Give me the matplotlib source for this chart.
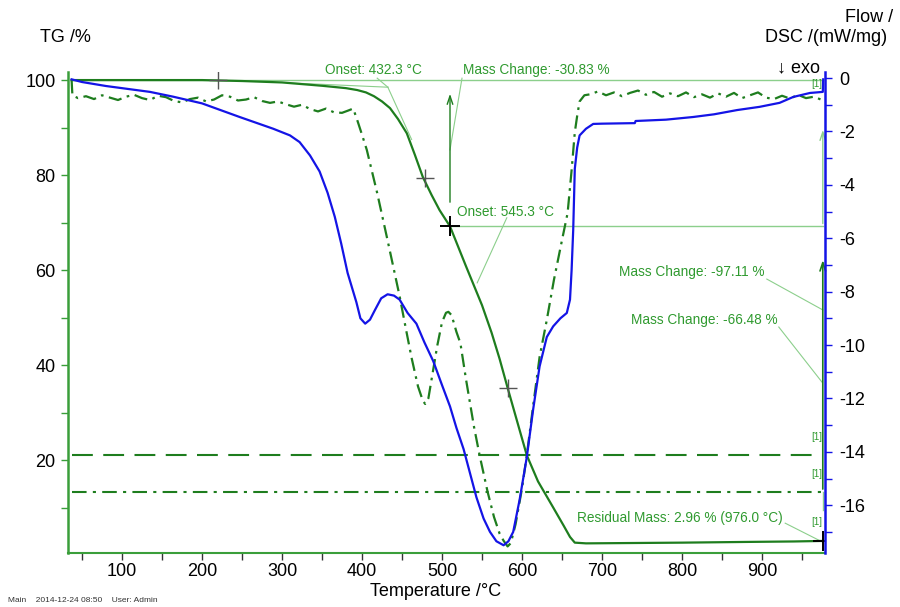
import matplotlib.pyplot as plt
from matplotlib.ticker import MultipleLocator

plt.rcParams['font.family'] = ['Liberation Sans', 'DejaVu Sans']
plt.rcParams['axes.unicode_minus'] = False

# TG curve (%)
temp_tg = [37, 60, 100, 150, 200, 250, 300, 350, 380, 394, 405, 415, 425, 435, 445, 456, 466,
           476, 487, 497, 510, 520, 530, 540, 550, 562, 572, 582, 595, 606, 620, 639, 652, 660,
           666, 680, 720, 800, 880, 940, 976]
tg = [100, 100, 100, 100, 100, 99.8, 99.5, 98.8, 98.3, 97.9, 97.4, 96.6, 95.5, 94.1, 91.8,
      88.8, 84.3, 79.6, 75.8, 72.6, 69.2, 65.0, 60.8, 56.7, 52.6, 46.8, 41.3, 35.2, 27.5,
      21.0, 15.5, 10.0, 6.2, 3.8, 2.6, 2.45, 2.5, 2.6, 2.75, 2.85, 2.96]

# DTG curve (dash-dot), plotted in TG units
temp_dtg = [37, 38, 45, 55, 65, 75, 85, 95, 105, 115, 125, 135, 145, 155, 165, 175, 185, 195,
            205, 215, 225, 235, 245, 255, 265, 275, 285, 295, 305, 315, 325, 335, 345, 355,
            365, 375, 383, 389, 394, 400, 406, 419, 431, 440, 447, 455, 462, 470, 476, 479,
            483, 488, 494, 500, 505, 508, 512, 518, 523, 530, 540, 547, 557, 565, 572, 577,
            582, 586, 592, 600, 606, 614, 622, 631, 640, 650, 657, 662, 666, 669, 672, 678,
            685, 695, 705, 715, 725, 735, 745, 755, 765, 775, 785, 795, 805, 815, 825, 835,
            845, 855, 865, 875, 885, 895, 905, 915, 925, 935, 945, 955, 965, 975, 976]
dtg = [100, 96.8, 96.2, 96.6, 96.0, 96.8, 96.3, 95.8, 96.5, 96.9, 96.2, 95.8, 96.7, 96.4,
       95.6, 95.3, 96.0, 96.3, 95.5, 95.9, 96.8, 96.5, 95.7, 95.9, 96.4, 95.6, 95.2, 95.5,
       94.9, 94.4, 94.8, 93.9, 93.4, 94.0, 93.2, 93.1, 93.6, 94.0, 91.6, 88.5, 85.3, 76.2,
       67.0, 60.0, 54.5, 47.5, 41.5, 35.5, 32.5, 31.8, 33.0, 38.0, 44.0, 49.0, 51.0, 51.2,
       50.5, 47.0, 44.6, 37.0, 27.0, 21.0, 13.3, 8.0, 4.5, 3.0, 1.8, 2.5, 6.5, 14.0, 21.0,
       31.5, 41.7, 49.5, 58.0, 66.3, 72.0, 81.0, 89.0, 92.5, 95.5, 96.8,
       97.0, 97.6, 96.8, 97.4, 96.6, 97.3, 97.8, 96.9, 97.5, 96.5, 97.2, 96.6, 97.4, 96.4,
       97.0, 96.3, 97.2, 96.5, 97.3, 96.2, 96.8, 97.4, 96.3, 96.0, 96.7, 96.1, 96.9, 96.2,
       96.5, 95.8, 95.4]

# DSC curve (mW/mg)
temp_dsc = [37, 50, 80, 100, 135, 164, 200, 247, 289, 310, 322, 335, 347, 357, 366, 374, 382,
            393, 398, 404, 410, 416, 424, 432, 440, 447, 457, 468, 478, 489, 500, 510, 518, 527,
            535, 543, 552, 560, 568, 577, 583, 589, 597, 606, 614, 622, 631, 639, 648, 656, 660,
            662, 664, 666, 669, 672, 680, 689, 700, 741, 742, 780, 814, 840, 869, 897, 922, 939,
            960, 976, 976.5]
dsc = [-0.05, -0.15, -0.3, -0.38, -0.52, -0.7, -0.95, -1.46, -1.9, -2.15, -2.4, -2.9, -3.5,
       -4.3, -5.2, -6.2, -7.3, -8.4, -9.0, -9.2, -9.05, -8.7, -8.25, -8.1, -8.15, -8.3, -8.8,
       -9.2, -9.9, -10.6, -11.5, -12.3, -13.1, -13.9, -14.8, -15.7, -16.5, -17.0, -17.35,
       -17.5, -17.35, -17.0, -15.8, -14.2, -12.4, -10.8, -9.7, -9.3, -9.0, -8.8, -8.3, -7.2,
       -5.7, -3.4, -2.6, -2.15, -1.9, -1.72, -1.71, -1.69, -1.61, -1.56, -1.46, -1.36, -1.2,
       -1.08, -0.93, -0.71, -0.56, -0.52, -0.05]

dashed_level = 21.05
dashdot_level = 13.3

# "+" marks on the TG curve
mark_t = [220, 479, 582]
mark_tg = [100, 79.4, 35.2]
key_t = [510, 976]
key_tg = [69.2, 2.96]

GREEN = '#1e7d1e'
TXT = '#2f9a2f'
THIN = '#8ccf8c'
BLUE = '#1414e6'
SPINE = '#3a9e3a'


def fig_xy(px, py):
    return px / 900, 1 - py / 607


fig = plt.figure(figsize=(9, 6.07), dpi=100)
ax = fig.add_axes([68 / 900, 1 - 553 / 607, (825 - 68) / 900, (553 - 72) / 607])
ax2 = ax.twinx()

ax.set_xlim(32.5, 978.75)
ax.set_ylim(0.42, 101.7)
ax2.set_ylim(-17.79, 0.225)

# reference lines / annotation lines
ax.plot([37, 976], [100, 100], color=THIN, lw=1)
ax.plot([310, 432.3], [99.4, 98.5], color=THIN, lw=0.8)
ax.plot([432.3, 462], [98.5, 87.5], color=THIN, lw=0.8)
ax.plot([419, 432.3], [100.4, 98.5], color=THIN, lw=0.8)
ax.plot([525, 510], [100.4, 85.3], color=THIN, lw=0.8)
ax.plot([510, 976], [69.2, 69.2], color=THIN, lw=1)
ax.plot([581, 544], [71.0, 57.3], color=THIN, lw=0.8)
ax.plot([906, 976], [58.1, 51.6], color=THIN, lw=0.8)
ax.plot([921, 975], [48.0, 36.4], color=THIN, lw=0.8)
ax.plot([929, 976], [6.7, 2.7], color=THIN, lw=0.8)
ax.annotate('', xy=(510, 97.7), xytext=(510, 73.7),
            arrowprops=dict(arrowstyle='->,head_length=0.6,head_width=0.2', color=GREEN, lw=1))
ax.annotate('', xy=(976, 90.1), xytext=(976, 69.2),
            arrowprops=dict(arrowstyle='->,head_length=0.6,head_width=0.2', color=THIN, lw=1))
ax.annotate('', xy=(976, 62.7), xytext=(976, 13.3),
            arrowprops=dict(arrowstyle='->,head_length=0.6,head_width=0.2', color=GREEN, lw=1.2))
ax.plot([976, 976], [13.3, 9.5], color=THIN, lw=1)

ax.plot([37, 966], [dashed_level, dashed_level], color=GREEN, lw=1.5, ls=(0, (10, 5)))
ax.plot([37, 976], [dashdot_level, dashdot_level], color=GREEN, lw=1.5, ls=(0, (7, 3, 1.5, 3)))

ax.plot(temp_dtg, dtg, color=GREEN, lw=1.6, ls=(0, (6, 2.5, 1.2, 2.5)))
ax.plot(temp_tg, tg, color=GREEN, lw=1.6)
ax.plot(mark_t, mark_tg, ls='none', marker='+', ms=13, mew=1, color='#555555')
ax.plot(key_t, key_tg, ls='none', marker='+', ms=14, mew=1.4, color='black')

ax2.plot(temp_dsc, dsc, color=BLUE, lw=1.6)

# axes styling
for s in ['top', 'right']:
    ax.spines[s].set_visible(False)
for s in ['top', 'left', 'bottom']:
    ax2.spines[s].set_visible(False)
ax.spines['left'].set_color(SPINE)
ax.spines['left'].set_linewidth(1.8)
ax.spines['bottom'].set_color(SPINE)
ax.spines['bottom'].set_linewidth(1.5)
ax2.spines['right'].set_color(BLUE)
ax2.spines['right'].set_linewidth(1.8)

ax.xaxis.set_major_locator(MultipleLocator(100))
ax.xaxis.set_minor_locator(MultipleLocator(50))
ax.yaxis.set_major_locator(MultipleLocator(20))
ax.yaxis.set_minor_locator(MultipleLocator(10))
ax2.yaxis.set_major_locator(MultipleLocator(2))
ax2.yaxis.set_minor_locator(MultipleLocator(1))
ax.set_xticks(range(100, 1000, 100))
ax.set_yticks([20, 40, 60, 80, 100])

ax.tick_params(axis='x', which='both', direction='out', length=5, width=1, colors='#333333',
               labelsize=13, labelcolor='black', pad=2)
ax.tick_params(axis='y', which='both', direction='out', length=5, width=1, colors=SPINE,
               labelsize=13, labelcolor='black', pad=4)
ax2.tick_params(axis='y', which='both', direction='out', length=5, width=1, colors=BLUE,
                labelsize=13, labelcolor='black', pad=5)

# axis texts
fig.text(*fig_xy(40, 38), 'TG /%', fontsize=13, va='center', ha='left')
fig.text(*fig_xy(845, 17), 'Flow /', fontsize=13, va='center', ha='left')
fig.text(*fig_xy(765, 38), 'DSC /(mW/mg)', fontsize=13, va='center', ha='left')
fig.text(*fig_xy(777, 68), '↓ exo', fontsize=13, va='center', ha='left')
fig.text(*fig_xy(436, 591), 'Temperature /°C', fontsize=13, va='center', ha='center')
fig.text(*fig_xy(8, 601), 'Main    2014-12-24 08:50    User: Admin', fontsize=6,
         va='center', ha='left', color='#333333')

# annotation texts
notes = [(325, 70, 'Onset: 432.3 °C'), (463, 70, 'Mass Change: -30.83 %'),
         (457, 212, 'Onset: 545.3 °C'), (619, 272, 'Mass Change: -97.11 %'),
         (631, 320, 'Mass Change: -66.48 %'), (577, 518, 'Residual Mass: 2.96 % (976.0 °C)')]
for px, py, s in notes:
    fig.text(*fig_xy(px, py), s, fontsize=9.8, color=TXT, va='center', ha='left')
for py in [84, 437, 474, 522]:
    fig.text(*fig_xy(811, py), '[1]', fontsize=7, color=TXT, va='center', ha='left')

fig.savefig('out.png', dpi=100)
